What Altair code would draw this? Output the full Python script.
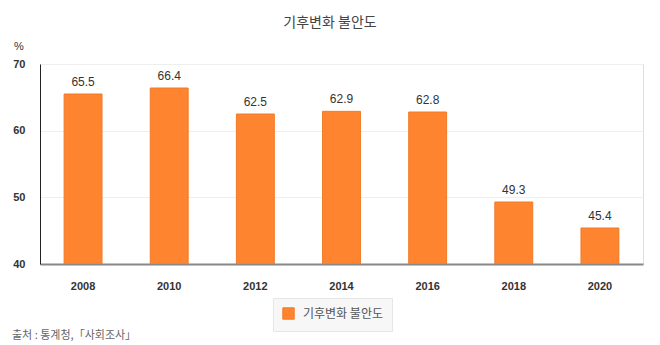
import altair as alt
import pandas as pd

years = ["2008", "2010", "2012", "2014", "2016", "2018", "2020"]
values = [65.5, 66.4, 62.5, 62.9, 62.8, 49.3, 45.4]
series_name = "기후변화 불안도"
title_text = "기후변화 불안도"
source_text = "출처 : 통계청,「사회조사」"
unit_text = "%"

KR_FONT = "Noto Sans CJK KR"
NUM_FONT = "Liberation Sans"
df = pd.DataFrame({"year": years, "value": values, "series": series_name})

x = alt.X("year:N", sort=years, title=None,
          scale=alt.Scale(paddingInner=0.56, paddingOuter=0.28),
          axis=alt.Axis(labelAngle=0, labelFontSize=11, labelFontWeight="bold",
                        labelColor="#333333", labelPadding=16, ticks=False,
                        domainColor="#888888", domainWidth=2, labelFont=NUM_FONT))
y = alt.Y("value:Q", title=None,
          scale=alt.Scale(domain=[40, 70], nice=False, zero=False),
          axis=alt.Axis(values=[40, 50, 60, 70], ticks=False, labelFontSize=11,
                        labelFontWeight="bold", labelColor="#333333", labelPadding=15,
                        domainColor="#222222", gridColor="#eeeeee", labelFont=NUM_FONT))

bars = alt.Chart(df).mark_bar(fill="#ff8430", stroke="#f07a28", strokeWidth=1, clip=True).encode(
    x=x, y=y, y2=alt.datum(40),
    color=alt.Color("series:N", title=None,
                    scale=alt.Scale(range=["#ff8430"]),
                    legend=alt.Legend(orient="none", legendX=233, legendY=234,
                                      symbolType="square", symbolSize=130,
                                      symbolStrokeColor="#f07a28", symbolStrokeWidth=1,
                                      labelFontSize=12, labelColor="#555555",
                                      labelFont=KR_FONT, fillColor="#f7f7f7",
                                      strokeColor="#e6e6e6", padding=9,
                                      symbolOffset=0, labelOffset=8)),
)

labels = alt.Chart(df).mark_text(dy=-12, fontSize=12, color="#333333", font=NUM_FONT).encode(
    x=alt.X("year:N", sort=years), y="value:Q", text=alt.Text("value:Q", format=".1f"))

title = alt.Chart(pd.DataFrame({"t": [title_text]})).mark_text(
    fontSize=14, color="#444444", font=KR_FONT, align="center").encode(
    text="t:N", x=alt.value(290), y=alt.value(-41))

unit = alt.Chart(pd.DataFrame({"t": [unit_text]})).mark_text(
    fontSize=11, color="#333333", font=NUM_FONT, align="left").encode(
    text="t:N", x=alt.value(-26), y=alt.value(-17))

source = alt.Chart(pd.DataFrame({"t": [source_text]})).mark_text(
    fontSize=11, color="#666666", font=KR_FONT, align="left").encode(
    text="t:N", x=alt.value(-28), y=alt.value(72 + 200))

chart = alt.layer(bars, labels, title, unit, source).properties(
    width=603, height=200,
    autosize=alt.AutoSizeParams(type="none"),
    padding={"left": 40, "top": 64, "right": 17, "bottom": 81},
).configure_view(stroke=None).configure(background="white")

chart.save("out.html", embed_options={"renderer": "svg", "actions": False})
